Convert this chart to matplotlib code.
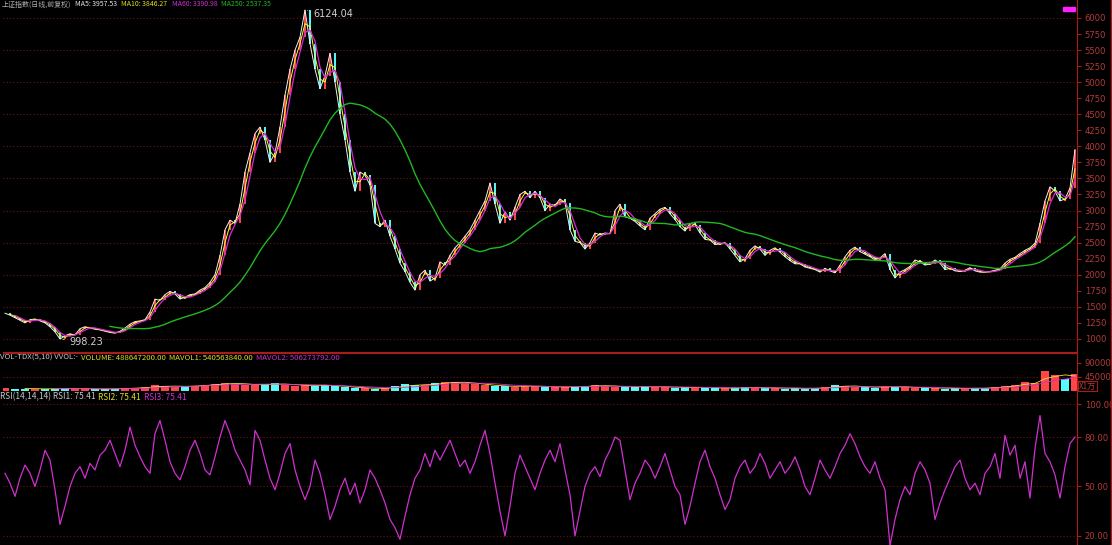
import numpy as np
import matplotlib.pyplot as plt

plt.rcParams['font.family'] = ['DejaVu Sans', 'Noto Sans CJK SC']

# closes sampled across the chart (left to right)
closes = [
    1400, 1370, 1330, 1290, 1250, 1300, 1310, 1280, 1250, 1190,
    1110, 998.23, 1050, 1080, 1060, 1160, 1190, 1170, 1150, 1140,
    1120, 1100, 1090, 1120, 1170, 1230, 1270, 1280, 1300, 1420,
    1620, 1600, 1690, 1740, 1700, 1620, 1650, 1690, 1700, 1760,
    1800, 1880, 2000, 2300, 2700, 2850, 2800, 3100, 3600, 3900,
    4200, 4300, 4100, 3750, 3900, 4300, 4800, 5200, 5500, 5700,
    6124.04, 5600, 5200, 4900, 5100, 5450, 5000, 4500, 4100, 3600,
    3300, 3600, 3550, 3400, 2800, 2750, 2850, 2600, 2400, 2180,
    2050, 1880, 1760, 2000, 2070, 1900, 1950, 2200, 2150, 2300,
    2420, 2500, 2600, 2700, 2850, 3000, 3150, 3430, 3100, 2800,
    2980, 2850, 3050, 3250, 3300, 3200, 3300, 3200, 3000, 3100,
    3080, 3180, 3120, 2700, 2520, 2500, 2400, 2500, 2650, 2620,
    2650, 2640, 3000, 3100, 2900, 2880, 2830, 2760, 2700, 2880,
    2950, 3020, 3050, 2950, 2860, 2750, 2680, 2800, 2780, 2650,
    2550, 2540, 2470, 2480, 2500, 2400, 2300, 2200, 2250, 2380,
    2450, 2400, 2300, 2380, 2420, 2350, 2280, 2220, 2170, 2170,
    2120, 2100, 2080, 2040, 2100, 2060, 2030, 2150, 2280, 2380,
    2430, 2360, 2320, 2280, 2230, 2260, 2330, 2080, 1950, 2040,
    2080, 2130, 2230, 2200, 2150, 2170, 2230, 2180, 2080, 2100,
    2060, 2050, 2070, 2110, 2060, 2040, 2040, 2050, 2070, 2090,
    2180, 2240, 2270, 2330, 2380, 2420, 2490, 2800, 3150, 3370,
    3300, 3150, 3180, 3350, 3950,
]

# volume, in units of 10k
volume = [
    9000, 8000, 7000, 7500, 6000, 8000, 9000, 7000, 6500, 7000, 6000, 8000, 9000, 10000, 12000,
    18000, 15000, 14000, 16000, 17000, 20000, 22000, 26000,
    24000, 20000, 18000, 22000, 25000, 20000, 17000, 19000, 16000, 20000, 15000,
    12000, 10000, 9000, 8000, 9000,
    15000, 22000, 18000, 20000, 25000, 30000, 28000, 26000, 22000,
    18000, 15000, 16000, 14000, 17000, 15000, 13000,
    12000, 14000, 13000, 16000, 20000, 15000, 14000, 13000, 12000, 15000, 14000, 12000, 11000, 12000, 11000, 10000,
    10000, 9000, 10000, 12000, 11000, 9000, 10000, 8000, 9000, 8000, 9000, 12000, 18000, 16000, 14000, 12000,
    11000, 16000, 13000, 12000, 10000, 11000, 9000, 8000, 9000, 8000, 9000, 10000, 12000,
    16000, 20000, 28000, 25000, 65000, 50000, 40000, 55000,
]

rsi = [
    58, 52, 44, 55, 63, 58, 50, 60, 72, 66,
    48, 27, 38, 50, 58, 62, 55, 64, 60, 69,
    72, 78, 70, 62, 72, 86, 75, 68, 62, 58,
    82, 90, 78, 65, 58, 54, 62, 72, 78, 70,
    60, 57, 68, 80, 90, 82, 72, 66, 60, 51,
    84, 78, 66, 55, 48, 58, 70, 76, 60, 50,
    42, 50, 66, 58, 45, 30, 38, 48, 55, 45,
    52, 40, 48, 60, 55, 48, 40, 30, 25, 18,
    32, 45, 55, 60, 70, 62, 72, 66, 72, 78,
    70, 62, 66, 58, 65, 75, 84, 70, 52, 35,
    20, 38, 58, 69, 62, 55, 48, 58, 66, 72,
    65, 76, 60, 45, 20, 35, 50, 58, 62, 56,
    66, 72, 80, 78, 60, 42, 52, 58, 66, 62,
    55, 62, 70, 60, 50, 45, 27, 38, 52, 65,
    72, 62, 55, 45, 36, 42, 55, 62, 66, 58,
    62, 70, 64, 55, 60, 65, 58, 62, 68, 60,
    50, 45, 55, 66, 60, 55, 62, 70, 75, 82,
    76, 68, 62, 58, 65, 55, 48, 14, 30, 42,
    50, 45, 58, 65, 60, 52, 30, 40, 48, 55,
    62, 66, 55, 48, 52, 45, 58, 62, 70, 55,
    81, 69, 75, 55, 65, 43, 73, 93, 70, 65,
    57, 43, 62, 76, 80,
]

price_ticks = list(range(1000, 6001, 250))
price_grid = list(range(1000, 6001, 500))
rsi_ticks = [20, 50, 80, 100]

RED = '#a81c1c'
LBL = '#b23a3a'
GRID = '#701010'
NARROW = ['Liberation Sans Narrow', 'DejaVu Sans']
CJK = ['Noto Sans CJK SC', 'DejaVu Sans']

W, H = 1112, 545


def rect(x0, y0, x1, y1):
    return [x0 / W, 1 - y1 / H, (x1 - x0) / W, (y1 - y0) / H]


def ma(a, k):
    a = np.asarray(a, dtype=float)
    out = np.full(len(a), np.nan)
    cs = np.cumsum(np.r_[0, a])
    out[k - 1:] = (cs[k:] - cs[:-k]) / k
    return out


fig = plt.figure(figsize=(W / 100, H / 100), dpi=100, facecolor='black')
ax_p = fig.add_axes(rect(3, 0, 1077, 352))
ax_v = fig.add_axes(rect(3, 353, 1077, 391))
ax_r = fig.add_axes(rect(3, 391, 1077, 545))

for ax in (ax_p, ax_v, ax_r):
    ax.set_facecolor('black')
    for s in ('left', 'top'):
        ax.spines[s].set_visible(False)
    ax.spines['right'].set_color(RED)
    ax.spines['bottom'].set_color(RED)
    ax.tick_params(axis='x', bottom=False, labelbottom=False)
    ax.yaxis.tick_right()
    ax.tick_params(axis='y', colors=RED, labelcolor=LBL, labelsize=6.1, length=3, width=0.8, pad=2.5)

# ---- price panel
c = np.array(closes, dtype=float)
n = len(c)
idx = np.arange(n)
o = np.r_[c[0], c[:-1]]
up = c >= o
ax_p.vlines(idx[up], o[up], c[up], color='#ff4646', lw=1.4, zorder=2)
ax_p.vlines(idx[~up], c[~up], o[~up], color='#54fcfc', lw=1.4, zorder=2)

ax_p.plot(idx, c, color='#f0f0f0', lw=0.7, zorder=3)
ax_p.plot(idx, ma(c, 2), color='#ffff30', lw=0.7, zorder=3)
ax_p.plot(idx, ma(c, 3), color='#d828d8', lw=0.9, zorder=4)
ax_p.plot(idx, ma(c, 22), color='#20b820', lw=1.0, zorder=4)

for g in price_grid:
    ax_p.axhline(g, color=GRID, lw=0.8, ls=(0, (1, 2)), zorder=0)
ax_p.set_yticks(price_ticks)
ax_p.set_ylim(796, 6280)
ax_p.set_xlim(-0.4, n - 0.6)

imax = int(np.argmax(c))
imin = int(np.argmin(c))
ax_p.annotate(f'{c[imax]:.2f}', xy=(imax, c[imax]), xytext=(6, -3), textcoords='offset points',
              color='#d0d0d0', fontsize=7, va='center',
              arrowprops=dict(arrowstyle='-', color='#d0d0d0', lw=0.7))
ax_p.annotate(f'{c[imin]:.2f}', xy=(imin, c[imin]), xytext=(7, -2), textcoords='offset points',
              color='#d0d0d0', fontsize=7, va='center',
              arrowprops=dict(arrowstyle='-', color='#d0d0d0', lw=0.7))

# ---- volume panel
v = np.array(volume, dtype=float)
vx = np.linspace(0, n - 1, len(v))
vi = np.round(vx).astype(int)
vup = c[vi] >= c[np.maximum(vi - 2, 0)]
ax_v.bar(vx[vup], v[vup], width=1.7, color='#ff4646', zorder=2)
ax_v.bar(vx[~vup], v[~vup], width=1.7, color='#54fcfc', zorder=2)
ax_v.plot(vx, ma(v, 3), color='#e8e830', lw=0.6, zorder=3)
ax_v.plot(vx, ma(v, 6), color='#d828d8', lw=0.6, zorder=3)
ax_v.axhline(45000, color=GRID, lw=0.8, ls=(0, (1, 2)), zorder=0)
ax_v.set_ylim(0, 122000)
ax_v.set_xlim(-0.4, n - 0.6)
ax_v.set_yticks([45000, 90000])
ax_v.spines['top'].set_visible(True)
ax_v.spines['top'].set_color(RED)
fig.text(1079 / W, 1 - 386 / H, 'X1万', color=LBL, fontsize=5.8, va='center', ha='left',
         family=CJK, bbox=dict(facecolor='black', edgecolor=RED, pad=0.6, lw=0.8))

# ---- rsi panel
r = np.array(rsi, dtype=float)
rx = np.linspace(0, n - 1, len(r))
ax_r.plot(rx, r, color='#d030d0', lw=0.9)
for g in rsi_ticks:
    ax_r.axhline(g, color=GRID, lw=0.8, ls=(0, (1, 2)), zorder=0)
ax_r.set_ylim(14.5, 107.9)
ax_r.set_xlim(-0.4, n - 0.6)
ax_r.set_yticks(rsi_ticks)
ax_r.set_yticklabels([f'{t:.2f}' for t in rsi_ticks])
ax_r.spines['bottom'].set_visible(False)

for ax in (ax_p, ax_v, ax_r):
    for lab in ax.get_yticklabels():
        lab.set_family(NARROW)


# ---- header texts
def row(y, parts, size, x0=2, gap=4):
    x = x0 / W
    for txt, col in parts:
        t = fig.text(x, 1 - y / H, txt, color=col, fontsize=size, va='center', ha='left',
                     family=CJK)
        fig.canvas.draw()
        bb = t.get_window_extent()
        x = (bb.x1 + gap) / W


row(4.5, [('上证指数(日线,前复权)', '#b0b0b0'), ('MA5: 3957.53', '#e8e8e8'),
          ('MA10: 3846.27', '#e0e020'), ('MA60: 3390.98', '#d030d0'),
          ('MA250: 2537.35', '#20b820')], 5.0)
row(358, [('VOL-TDX(5,10) VVOL:-', '#c8c8c8'), ('VOLUME: 488647200.00', '#e0e020'),
          ('MAVOL1: 540563840.00', '#e0e020'), ('MAVOL2: 506273792.00', '#d030d0')], 5.6, x0=0, gap=3)
row(397, [('RSI(14,14,14) RSI1: 75.41', '#c8c8c8'), ('RSI2: 75.41', '#e0e020'),
          ('RSI3: 75.41', '#d030d0')], 6, x0=0, gap=3)

fig.patches.append(plt.Rectangle((1063 / W, 1 - 11 / H), 12 / W, 4 / H, color='#ff20ff',
                                 transform=fig.transFigure, figure=fig))
fig.lines.append(plt.Line2D([1111 / W, 1111 / W], [0, 1], color=RED, lw=1,
                            transform=fig.transFigure, figure=fig))

fig.savefig('out.png', dpi=100, facecolor='black')
